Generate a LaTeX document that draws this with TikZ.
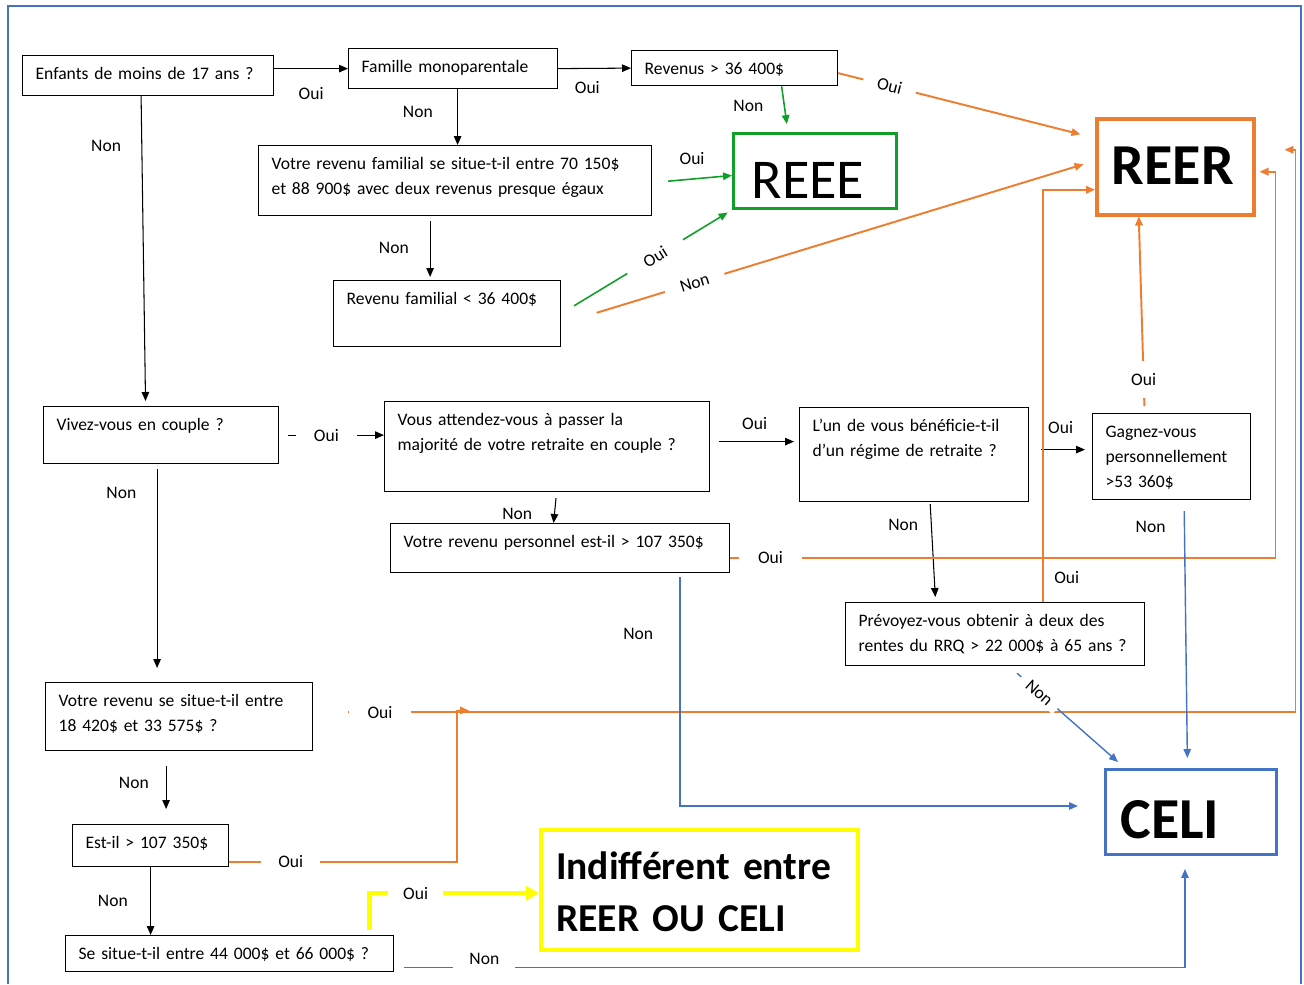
\documentclass[tikz,border=0pt]{standalone}
\usepackage{fontspec}
\setmainfont{Carlito}
\usetikzlibrary{arrows.meta, positioning}
\definecolor{reerorange}{RGB}{237,125,49}
\definecolor{celiblue}{RGB}{68,114,196}
\definecolor{reeegreen}{RGB}{16,160,40}
\definecolor{indyellow}{RGB}{255,255,0}
\tikzset{
  qbox/.style={draw, line width=0.7pt, anchor=north west, align=left,
               inner xsep=0.26cm, inner ysep=0pt, text height=0.48cm,
               font=\fontsize{10}{14.2}\selectfont},
  rbox/.style={draw, anchor=north west, align=left, inner ysep=0pt},
  qarr/.style={-{Triangle[length=1.8mm, width=1.5mm]}, line width=0.6pt},
  oarr/.style={qarr, draw=reerorange, line width=1.1pt},
  garr/.style={qarr, draw=reeegreen, line width=0.9pt},
  barr/.style={qarr, draw=celiblue, line width=0.8pt},
  yarr/.style={-{Triangle[length=2.6mm, width=2.8mm]}, draw=indyellow, line width=2.4pt},
  lab/.style={font=\fontsize{10}{12}\selectfont, inner sep=1pt},
  cut/.style={lab, fill=white},
}

\begin{document}
\begin{tikzpicture}[x=0.02cm, y=-0.02cm]
\useasboundingbox (0,0) rectangle (1304,984);
\draw[celiblue, line width=1.1pt] (8,984) -- (8,6) -- (1301,6) -- (1301,984);
% ---- questions ----
\node[qbox, text width=4.5cm, text depth=0.32cm] (enfants) at (22,55) {Enfants de moins de 17 ans ?};
\node[qbox, text width=3.66cm, text depth=0.32cm] (mono) at (348,48) {Famille monoparentale};
\node[qbox, text width=3.6cm, text depth=0.22cm] (revenus) at (631,50) {Revenus > 36 400\$};
\node[qbox, text width=7.34cm, text depth=0.92cm] (famil) at (258,145)
  {Votre revenu familial se situe-t-il entre 70 150\$\\ et 88 900\$ avec deux revenus presque égaux};
\node[qbox, text width=4.02cm, text depth=0.84cm] (famlow) at (333,280) {Revenu familial < 36 400\$};
\node[qbox, text width=4.18cm, text depth=0.66cm] (couple) at (43,406) {Vivez-vous en couple ?};
\node[qbox, text width=5.98cm, text depth=1.32cm] (retraite) at (384,401)
  {Vous attendez-vous à passer la\\ majorité de votre retraite en couple ?};
\node[qbox, text width=4.06cm, text depth=1.4cm] (regime) at (799,407)
  {L’un de vous bénéficie-t-il\\ d’un régime de retraite ?};
\node[qbox, text width=2.64cm, text depth=1.24cm] (gagnez) at (1092,413)
  {Gagnez-vous\\ personnellement\\ >53 360\$};
\node[qbox, text width=6.26cm, text depth=0.5cm] (perso) at (390,523) {Votre revenu personnel est-il > 107 350\$};
\node[qbox, text width=5.46cm, text depth=0.78cm] (rrq) at (845,602)
  {Prévoyez-vous obtenir à deux des\\ rentes du RRQ > 22 000\$ à 65 ans ?};
\node[qbox, text width=4.82cm, text depth=0.88cm] (entre) at (45,682)
  {Votre revenu se situe-t-il entre\\ 18 420\$ et 33 575\$ ?};
\node[qbox, text width=2.6cm, text depth=0.36cm] (estil) at (72,824) {Est-il > 107 350\$};
\node[qbox, text width=6.04cm, text depth=0.24cm] (situe) at (65,935) {Se situe-t-il entre 44 000\$ et 66 000\$ ?};
% ---- outcomes ----
\node[rbox, draw=reeegreen, line width=1.7pt, inner xsep=0.36cm, text width=2.54cm,
      text height=1.3cm, text depth=0.2cm, font=\fontsize{32}{36}\selectfont] (reee) at (732,132) {REEE};
\node[rbox, draw=reerorange, line width=2pt, inner xsep=0.3cm, text width=2.54cm,
      text height=1.32cm, text depth=0.6cm, font=\fontsize{33}{36}\selectfont\bfseries] (reer) at (1095,117) {REER};
\node[rbox, draw=celiblue, line width=1.7pt, inner xsep=0.3cm, text width=2.82cm,
      text height=1.38cm, text depth=0.32cm, font=\fontsize{33}{36}\selectfont\bfseries] (celi) at (1104,768) {CELI};
\node[rbox, draw=indyellow, line width=2.5pt, inner xsep=0.3cm, text width=5.74cm,
      text height=0.98cm, text depth=1.42cm, font=\fontsize{22.5}{30}\selectfont\bfseries] (indiff) at (539,828)
  {Indifférent entre\\ REER OU CELI};
\coordinate (busA) at ([xshift=0.8cm, yshift=0.34cm]reer.east);
\coordinate (busB) at ([xshift=0.4cm, yshift=-0.1cm]reer.east);
\coordinate (joint) at (457,710.5);
% ---- black arrows ----
\draw[qarr] (enfants.east |- mono.west) -- node[lab, below=0.33cm] {Oui} (mono.west);
\draw[qarr] (mono.east) -- node[lab, pos=0.4, below=0.22cm] {Oui} (revenus.west);
\draw[qarr] ([xshift=0.09cm]mono.south) -- node[lab, pos=0.4, left=0.45cm] {Non} ([xshift=0.09cm]mono.south |- famil.north);
\draw[qarr, shorten >=0.1cm] ([xshift=-0.14cm]enfants.south) -- node[lab, pos=0.16, left=0.37cm] {Non} ([xshift=-0.31cm]couple.north);
\draw[qarr, shorten <=0.1cm, shorten >=0.06cm] ([xshift=-0.34cm]famlow.north |- famil.south) -- node[lab, left=0.38cm] {Non} ([xshift=-0.34cm]famlow.north);
\draw[qarr, shorten <=0.18cm] (couple.east) -- node[cut, pos=0.45, inner xsep=0.36cm] {Oui} (couple.east -| retraite.west);
\draw[qarr, shorten <=0.1cm, shorten >=0.28cm] ([xshift=-0.08cm]couple.south) -- node[lab, pos=0.13, left=0.37cm] {Non} ([xshift=-0.08cm]couple.south |- entre.north);
\draw[qarr, shorten <=0.18cm, shorten >=0.1cm] ([yshift=0.1cm]retraite.east) -- node[lab, above=0.2cm] {Oui} ([yshift=0.1cm]retraite.east -| regime.west);
\draw[qarr, shorten <=0.12cm] ([xshift=0.19cm]retraite.south) -- node[lab, pos=0.7, left=0.4cm] {Non} ([xshift=-0.13cm]perso.north);
\draw[qarr, shorten <=0.24cm, shorten >=0.14cm] ([yshift=0.1cm]regime.east) -- node[lab, above=0.28cm] {Oui} ([yshift=0.1cm]regime.east -| gagnez.west);
\draw[qarr, shorten <=0.04cm, shorten >=0.1cm] ([xshift=0.32cm]regime.south) -- node[lab, pos=0.23, left=0.22cm] {Non} ([xshift=-1.19cm]rrq.north);
\draw[qarr, shorten <=0.3cm, shorten >=0.3cm] ([xshift=-0.26cm]entre.south) -- node[lab, pos=0.44, left=0.3cm] {Non} ([xshift=-0.26cm]entre.south |- estil.north);
\draw[qarr] (estil.south) -- node[lab, left=0.41cm] {Non} (estil.south |- situe.north);
% ---- green arrows to REEE ----
\draw[garr, shorten >=0.16cm] ([xshift=0.94cm]revenus.south) -- node[lab, pos=0.43, left=0.37cm] {Non} ([xshift=-0.54cm]reee.north);
\draw[garr, shorten <=0.32cm] ([yshift=-0.04cm]famil.east) -- node[lab, above=0.24cm] {Oui} ([yshift=-0.09cm]reee.west);
\draw[garr, shorten <=0.3cm, shorten >=0.1cm] (famlow.east) -- node[cut, sloped, pos=0.55, inner xsep=0.4cm] {Oui} (reee.south west);
% ---- orange arrows to REER ----
\draw[oarr, shorten >=0.3cm] ([yshift=-0.1cm]revenus.east) -- node[cut, sloped, pos=0.2, inner xsep=0.29cm] {Oui} ([yshift=-0.42cm]reer.north west);
\draw[oarr, shorten <=0.74cm, shorten >=0.24cm] ([yshift=-0.2cm]famlow.east) -- node[cut, sloped, pos=0.25, inner xsep=0.32cm] {Non} ([yshift=0.12cm]reer.west);
\draw[oarr, shorten <=0.14cm] ([xshift=-0.54cm]gagnez.north) -- node[cut, pos=0.17, inner ysep=0.24cm] {Oui} ([xshift=-0.73cm]reer.south);
\draw[oarr] ([yshift=-0.19cm]perso.east) -| node[cut, pos=0.037, inner xsep=0.39cm] {Oui} (busB) -- ([xshift=0.08cm, yshift=-0.1cm]reer.east);
\draw[oarr] ([xshift=0.95cm]rrq.north) |- node[lab, pos=0.03, right=0.18cm] {Oui} ([yshift=-0.46cm]reer.west);
\draw[oarr, shorten <=0.7cm] ([yshift=0.09cm]entre.east) -| node[cut, pos=0.034, inner xsep=0.38cm] {Oui} (busA) -- ([xshift=0.58cm, yshift=0.34cm]reer.east);
\draw[oarr] ([yshift=-0.32cm]estil.east) -| node[cut, pos=0.135, inner xsep=0.34cm] {Oui} (joint) -- ([xshift=0.24cm]joint);
% ---- blue arrows to CELI ----
\draw[barr, shorten <=0.08cm] ([xshift=2.4cm]perso.south) |- node[lab, pos=0.13, left=0.49cm] {Non} ([xshift=-0.52cm, yshift=0.12cm]celi.west);
\draw[barr] ([xshift=0.44cm, yshift=-0.14cm]rrq.south) -- node[cut, sloped, pos=0.22, inner xsep=0.18cm] {Non} ([xshift=0.28cm, yshift=0.12cm]celi.north west);
\draw[barr, shorten <=0.22cm, shorten >=0.2cm] ([xshift=0.25cm]gagnez.south) -- node[lab, pos=0.1, left=0.33cm] {Non} ([xshift=-0.07cm]celi.north);
\draw[barr, shorten <=0.2cm, shorten >=0.26cm] ([yshift=-0.28cm]situe.east) -| node[cut, pos=0.057, inner xsep=0.32cm, inner ysep=0.12cm, yshift=0.18cm] {Non} ([xshift=-0.12cm]celi.south);
% ---- yellow arrow ----
\draw[yarr, shorten <=0.1cm] ([xshift=2.8cm]situe.north) |- node[cut, pos=0.636, inner xsep=0.3cm] {Oui} ([yshift=-0.06cm]indiff.west);
\end{tikzpicture}
\end{document}
